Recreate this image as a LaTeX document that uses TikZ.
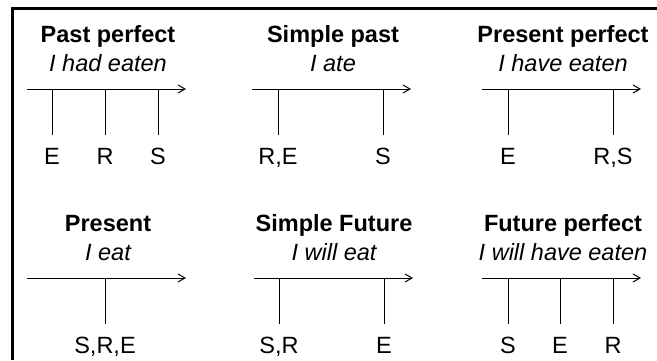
\documentclass[tikz,border=0pt]{standalone}
\usepackage{fontspec}
\setmainfont{Liberation Sans}
\usetikzlibrary{arrows.meta}

\tikzset{
  title/.style={font=\fontsize{23.5}{26}\selectfont\bfseries, anchor=base},
  sub/.style={font=\fontsize{23.5}{26}\selectfont\itshape, anchor=base},
  lbl/.style={font=\fontsize{23.5}{26}\selectfont, anchor=base, inner sep=0pt,
    text height=17pt, text depth=0pt},
  axis/.style={-{Straight Barb[length=7pt,width=8pt]}, line width=1pt},
  tick/.style={line width=1pt, shorten >=12pt},
}

\begin{document}
\begin{tikzpicture}[x=1pt,y=-1pt]
    \useasboundingbox (0,0) rectangle (657,360);
    \draw[line width=2.5pt] (12.5,360) -- (12.5,8.5) -- (657,8.5);

    % past perfect
    \begin{scope}
      \node[title] (ppT) at (108,42) {Past perfect};
      \node[sub] (ppS) at (108,71) {I had eaten};
      \coordinate (ppA) at (27,89);
      \coordinate (ppB) at (186,89);
      \draw[axis] (ppA) -- (ppB);
      \coordinate (ppE) at (52,89);
      \coordinate (ppR) at (105,89);
      \coordinate (ppX) at (158,89);
      \node[lbl] (ppEl) at (52,164) {E};
      \node[lbl] (ppRl) at (105,164) {R};
      \node[lbl] (ppXl) at (158,164) {S};
      \draw[tick] (ppE) -- (ppEl.north);
      \draw[tick] (ppR) -- (ppRl.north);
      \draw[tick] (ppX) -- (ppXl.north);
    \end{scope}

    % simple past
    \begin{scope}[shift={(225,0)}]
      \node[title] (spT) at (108,42) {Simple past};
      \node[sub] (spS) at (108,71) {I ate};
      \coordinate (spA) at (27,89);
      \coordinate (spB) at (186,89);
      \draw[axis] (spA) -- (spB);
      \coordinate (spRE) at (53,89);
      \coordinate (spX) at (158,89);
      \node[lbl] (spREl) at (53,164) {R,E};
      \node[lbl] (spXl) at (158,164) {S};
      \draw[tick] (spRE) -- (spREl.north);
      \draw[tick] (spX) -- (spXl.north);
    \end{scope}

    % present perfect
    \begin{scope}[shift={(455,0)}]
      \node[title] (prpT) at (108,42) {Present perfect};
      \node[sub] (prpS) at (108,71) {I have eaten};
      \coordinate (prpA) at (27,89);
      \coordinate (prpB) at (186,89);
      \draw[axis] (prpA) -- (prpB);
      \coordinate (prpE) at (53,89);
      \coordinate (prpRS) at (158,89);
      \node[lbl] (prpEl) at (53,164) {E};
      \node[lbl] (prpRSl) at (158,164) {R,S};
      \draw[tick] (prpE) -- (prpEl.north);
      \draw[tick] (prpRS) -- (prpRSl.north);
    \end{scope}

    % present
    \begin{scope}[shift={(0,189)}]
      \node[title] (prT) at (108,42) {Present};
      \node[sub] (prS) at (108,71) {I eat};
      \coordinate (prA) at (27,89);
      \coordinate (prB) at (186,89);
      \draw[axis] (prA) -- (prB);
      \coordinate (prSRE) at (105,89);
      \node[lbl] (prSREl) at (105,164) {S,R,E};
      \draw[tick] (prSRE) -- (prSREl.north);
    \end{scope}

    % simple future
    \begin{scope}[shift={(227,189)}]
      \node[title] (sfT) at (107,42) {Simple Future};
      \node[sub] (sfS) at (107,71) {I will eat};
      \coordinate (sfA) at (27,89);
      \coordinate (sfB) at (186,89);
      \draw[axis] (sfA) -- (sfB);
      \coordinate (sfSR) at (52,89);
      \coordinate (sfE) at (157,89);
      \node[lbl] (sfSRl) at (52,164) {S,R};
      \node[lbl] (sfEl) at (157,164) {E};
      \draw[tick] (sfSR) -- (sfSRl.north);
      \draw[tick] (sfE) -- (sfEl.north);
    \end{scope}

    % future perfect
    \begin{scope}[shift={(455,189)}]
      \node[title] (fpT) at (108,42) {Future perfect};
      \node[sub] (fpS) at (108,71) {I will have eaten};
      \coordinate (fpA) at (27,89);
      \coordinate (fpB) at (186,89);
      \draw[axis] (fpA) -- (fpB);
      \coordinate (fpX) at (53,89);
      \coordinate (fpE) at (105,89);
      \coordinate (fpR) at (158,89);
      \node[lbl] (fpXl) at (53,164) {S};
      \node[lbl] (fpEl) at (105,164) {E};
      \node[lbl] (fpRl) at (158,164) {R};
      \draw[tick] (fpX) -- (fpXl.north);
      \draw[tick] (fpE) -- (fpEl.north);
      \draw[tick] (fpR) -- (fpRl.north);
    \end{scope}
\end{tikzpicture}
\end{document}
